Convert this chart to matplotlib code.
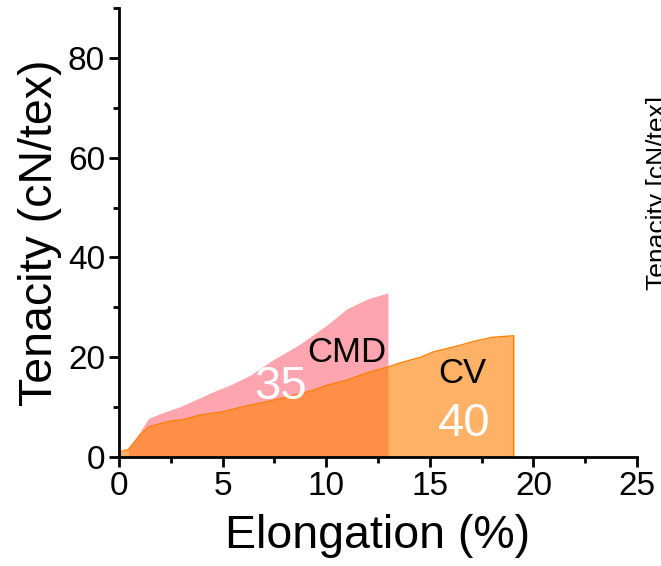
import numpy as np
import matplotlib.pyplot as plt
from matplotlib.ticker import MultipleLocator

plt.rcParams['font.family'] = ['Liberation Sans', 'DejaVu Sans']

# stress-strain curves
cv_x = [0.0, 0.45, 1.0, 1.42, 2.0, 2.47, 3.1, 3.9, 5.05, 6.0, 7.15, 8.27, 9.4,
        10.05, 11.0, 12.0, 12.95, 13.6, 14.56, 15.2, 16.2, 17.15, 18.03, 19.05]
cv_y = [1.0, 1.5, 4.3, 6.0, 6.7, 7.2, 7.5, 8.4, 9.1, 10.1, 11.1, 12.2, 13.4,
        14.4, 15.4, 16.9, 18.0, 18.9, 20.0, 21.1, 22.1, 23.2, 24.0, 24.3]

cmd_x = [0.45, 1.0, 1.42, 1.98, 2.95, 3.76, 4.56, 5.45, 6.34, 7.47, 7.95, 8.76,
         10.05, 11.0, 12.0, 12.98]
cmd_y = [1.5, 5.0, 7.7, 8.7, 10.1, 11.6, 13.1, 14.6, 16.4, 19.6, 20.7, 22.7,
         26.5, 29.7, 31.7, 32.9]

fig = plt.figure(figsize=(6.61, 5.66), dpi=100)
ax = fig.add_axes([0.18, 0.1926, 0.7837, 0.7933])

ax.fill_between(cmd_x, 0, cmd_y, color='#FFA5B0', lw=0)
ax.fill_between(cv_x, 0, cv_y, color='#FF8000', alpha=0.6, lw=0)
ax.plot(cv_x + [cv_x[-1]], cv_y + [0], color='#FF8000', lw=1)

ax.text(11.0, 20.9, 'CMD', fontsize=25, ha='center', va='center')
ax.text(16.55, 16.8, 'CV', fontsize=25, ha='center', va='center')
ax.text(7.8, 14.0, '35', fontsize=34, color='white', ha='center', va='center')
ax.text(16.65, 6.7, '40', fontsize=34, color='white', ha='center', va='center')

ax.set_xlim(0, 25)
ax.set_ylim(0, 90)
ax.xaxis.set_major_locator(MultipleLocator(5))
ax.xaxis.set_minor_locator(MultipleLocator(2.5))
ax.yaxis.set_major_locator(MultipleLocator(20))
ax.yaxis.set_minor_locator(MultipleLocator(10))
ax.spines['top'].set_visible(False)
ax.spines['right'].set_visible(False)
for s in ['left', 'bottom']:
    ax.spines[s].set_linewidth(2)
ax.tick_params(which='major', length=7, width=2, labelsize=24, pad=3)
ax.tick_params(which='minor', length=4, width=2)
ax.set_xlabel('Elongation (%)', fontsize=33.5, labelpad=9)
ax.set_ylabel('Tenacity (cN/tex)', fontsize=33.5, labelpad=4)

# label of the neighbouring panel, cut off at the right edge as in the source
fig.text(0.977, 0.4876, 'Tenacity [cN/tex]', fontsize=19, rotation=90,
         ha='left', va='bottom')

fig.savefig('out.png', dpi=100)
